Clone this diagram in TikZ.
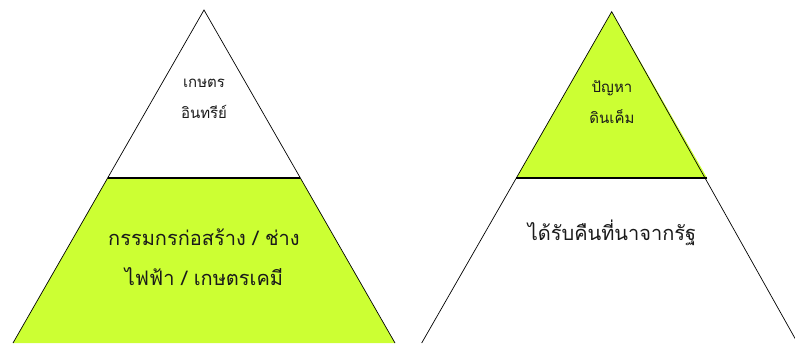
\documentclass[tikz,border=0pt]{standalone}
\usepackage{fontspec}
\newfontfamily\thaifont[Script=Thai]{Loma}
\usepackage{tikz}
\definecolor{sLime}{HTML}{CCFF33}
\definecolor{nInk}{HTML}{1A1A1A}
\tikzset{
  tierside/.style={draw=black, line width=0.7pt},
  tierfill/.style={fill=sLime, draw=none},
  divider/.style={draw=black, line width=2pt},
  smalltext/.style={font=\thaifont\fontsize{15}{31}\selectfont, text=nInk, align=center, inner sep=0pt},
  bigtext/.style={font=\thaifont\fontsize{20}{40}\selectfont, text=nInk, align=center, inner sep=0pt},
}

\begin{document}
\begin{tikzpicture}[x=1pt, y=-1pt]
  \useasboundingbox (0,0) rectangle (795,343);
  \clip (0,0) rectangle (795,343);
  % left pyramid: green base tier
  \coordinate (lTop) at (204,10);
  \coordinate (lMidL) at (107.6,178);
  \coordinate (lMidR) at (300.4,178);
  \coordinate (lBotL) at (13,343);
  \coordinate (lBotR) at (395,343);
  \fill[tierfill] (lMidL) -- (lMidR) -- (lBotR) -- (lBotL) -- cycle;
  \draw[tierside] (lBotL) -- (lTop) -- (lBotR);
  \draw[divider] (lMidL) -- (lMidR);
  \node[smalltext] (lApexText) at (204,99) {เกษตร\\อินทรีย์};
  \node[bigtext] (lBaseText) at (204,257) {กรรมกรก่อสร้าง / ช่าง\\ไฟฟ้า / เกษตรเคมี};
  % right pyramid: green apex tier
  \coordinate (rTop) at (611.7,11.7);
  \coordinate (rMidL) at (516.1,178.3);
  \coordinate (rMidR) at (707.3,178.3);
  \coordinate (rBotL) at (421.7,343);
  \coordinate (rBotR) at (797.6,343);
  \fill[tierfill] (rTop) -- (rMidR) -- (rMidL) -- cycle;
  \draw[tierside] (rBotL) -- (rTop) -- (rBotR);
  \draw[divider] (rMidL) -- (rMidR);
  \node[smalltext] (rApexText) at (612,102) {ปัญหา\\ดินเค็ม};
  \node[bigtext] (rBaseText) at (612,233) {ได้รับคืนที่นาจากรัฐ};
\end{tikzpicture}
\end{document}
